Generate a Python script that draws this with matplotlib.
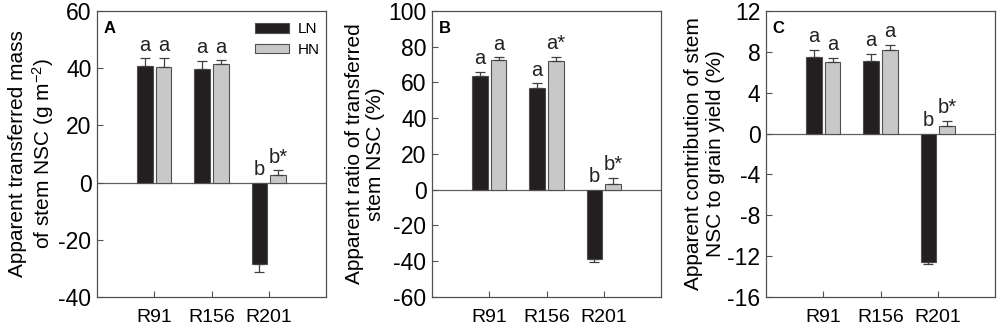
import numpy as np
import matplotlib
matplotlib.use("Agg")
from matplotlib import pyplot as plt

plt.rcParams['font.family'] = ['Liberation Sans', 'DejaVu Sans']
plt.rcParams['mathtext.default'] = 'regular'
plt.rcParams['axes.unicode_minus'] = False

cultivars = ["R91", "R156", "R201"]

# panel A: transferred mass (g m-2)
mass_ln = [40.8, 39.8, -28.6]
mass_ln_err = [2.6, 2.8, 2.5]
mass_hn = [40.5, 41.6, 2.6]
mass_hn_err = [3.0, 1.1, 1.8]
mass_ln_lab = ["a", "a", "b"]
mass_hn_lab = ["a", "a", "b*"]

# panel B: transferred ratio (%)
ratio_ln = [63.5, 56.8, -38.5]
ratio_ln_err = [2.4, 2.9, 2.2]
ratio_hn = [72.6, 72.0, 3.4]
ratio_hn_err = [1.6, 2.3, 3.3]
ratio_ln_lab = ["a", "a", "b"]
ratio_hn_lab = ["a", "a*", "b*"]

# panel C: contribution to grain yield (%)
contr_ln = [7.5, 7.1, -12.55]
contr_ln_err = [0.7, 0.7, 0.2]
contr_hn = [7.0, 8.2, 0.7]
contr_hn_err = [0.4, 0.5, 0.55]
contr_ln_lab = ["a", "a", "b"]
contr_hn_lab = ["a", "a", "b*"]

panels = [
    ("A", mass_ln, mass_ln_err, mass_hn, mass_hn_err, mass_ln_lab, mass_hn_lab,
     (-40, 60), np.arange(-40, 61, 20), "Apparent transferred mass\nof stem NSC (g m$^{-2}$)"),
    ("B", ratio_ln, ratio_ln_err, ratio_hn, ratio_hn_err, ratio_ln_lab, ratio_hn_lab,
     (-60, 100), np.arange(-60, 101, 20), "Apparent ratio of transferred\nstem NSC (%)"),
    ("C", contr_ln, contr_ln_err, contr_hn, contr_hn_err, contr_ln_lab, contr_hn_lab,
     (-16, 12), np.arange(-16, 13, 4), "Apparent contribution of stem\nNSC to grain yield (%)"),
]

lefts = [0.097, 0.432, 0.766]
edge = "#505050"
fig = plt.figure(figsize=(10, 3.3), dpi=100)

x = np.arange(len(cultivars))
w = 0.27
off = 0.165

for left, (tag, ln, ln_e, hn, hn_e, ln_lab, hn_lab, ylim, yt, ylab) in zip(lefts, panels):
    ax = fig.add_axes([left, 0.1, 0.229, 0.867])
    rng = ylim[1] - ylim[0]
    for xs, vals, errs, labs, col, name in [(x - off, ln, ln_e, ln_lab, "#231f20", "LN"),
                                             (x + off, hn, hn_e, hn_lab, "#c8c8c8", "HN")]:
        vals = np.array(vals)
        errs = np.array(errs)
        lo = np.where(vals < 0, errs, 0)
        hi = np.where(vals >= 0, errs, 0)
        ax.bar(xs, vals, width=w, color=col, edgecolor=edge, linewidth=0.8, label=name, zorder=2)
        ax.errorbar(xs, vals, yerr=[lo, hi], fmt="none", ecolor="#404040",
                    elinewidth=0.9, capsize=3.5, capthick=0.9, zorder=3)
        for xi, v, e, t in zip(xs, vals, errs, labs):
            ytop = v + e if v >= 0 else 0
            ax.text(xi, ytop + rng * 0.012, t, ha="center", va="bottom", fontsize=14.5, color="#222222")
    ax.axhline(0, color="#606060", linewidth=0.9, zorder=1)
    ax.set_xlim(-1, 3)
    ax.set_ylim(*ylim)
    ax.set_yticks(yt)
    ax.set_xticks(x)
    ax.set_xticklabels(cultivars)
    ax.tick_params(direction="in", length=4, width=0.8, color=edge)
    ax.tick_params(axis="y", labelsize=16.5, pad=4)
    ax.tick_params(axis="x", labelsize=14, pad=9)
    for s in ax.spines.values():
        s.set_color(edge)
        s.set_linewidth(0.9)
    ax.set_ylabel(ylab, fontsize=15, linespacing=1.15, labelpad=2)
    ax.text(0.03, 0.965, tag, transform=ax.transAxes, fontsize=12, fontweight="bold",
            ha="left", va="top")
    if tag == "A":
        ax.legend(loc="upper left", frameon=False, fontsize=11, handlelength=2.2,
                  handleheight=0.55, handletextpad=0.6, labelspacing=0.45,
                  bbox_to_anchor=(0.69, 0.96), borderaxespad=0, borderpad=0)

plt.savefig("out.png", dpi=100)
